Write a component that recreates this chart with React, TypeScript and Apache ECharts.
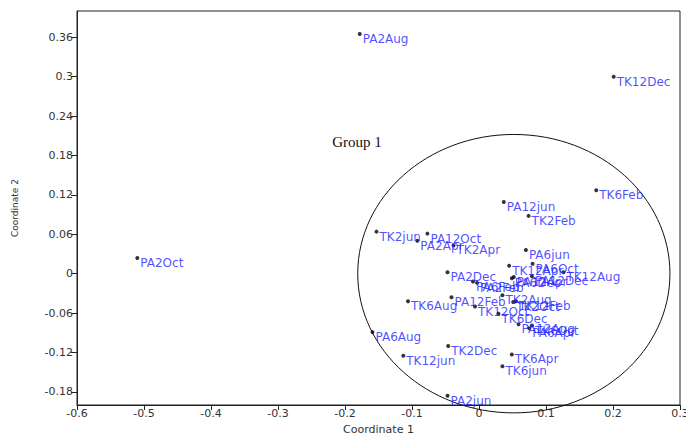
import React, { useEffect, useRef } from "react";
import * as echarts from "echarts";

const names = [
  "PA2Aug", "TK12Dec", "PA2Oct", "TK6Feb", "PA12jun", "TK2Feb", "TK2jun", "PA12Oct",
  "PA2Apr", "TK2Apr", "PA6jun", "PA6Oct", "TK12Apr", "TK12Aug", "PA2Dec", "PA6Feb",
  "PA2Feb", "PA6Dec", "PA12Apr", "PA12Dec", "PA12Feb", "TK2Aug", "TK6Aug", "TK12Oct",
  "TK12Feb", "TK6Dec", "PA12Aug", "PA6Apr", "TK6Oct", "PA6Aug", "TK2Dec", "TK12jun",
  "TK6Apr", "TK6jun", "PA2jun", "TK2Oct",
];
const coord1 = [
  -0.178, 0.201, -0.510, 0.175, 0.037, 0.074, -0.153, -0.077,
  -0.092, -0.038, 0.070, 0.080, 0.045, 0.126, -0.047, -0.009,
  -0.003, 0.049, 0.052, 0.079, -0.041, 0.035, -0.106, -0.006,
  0.055, 0.029, 0.059, 0.075, 0.079, -0.159, -0.046, -0.113,
  0.049, 0.035, -0.047, 0.051,
];
const coord2 = [
  0.365, 0.300, 0.024, 0.127, 0.109, 0.088, 0.064, 0.061,
  0.050, 0.043, 0.036, 0.015, 0.012, 0.002, 0.002, -0.012,
  -0.014, -0.007, -0.005, -0.004, -0.036, -0.033, -0.042, -0.050,
  -0.042, -0.061, -0.077, -0.083, -0.079, -0.089, -0.110, -0.125,
  -0.123, -0.141, -0.186, -0.043,
];
const yTicks = [-0.18, -0.12, -0.06, 0, 0.06, 0.12, 0.18, 0.24, 0.3, 0.36];
const group = { label: "Group 1", cx: 0.052, cy: 0.0, rx: 0.233, ry: 0.212, labelX: -0.182, labelY: 0.2 };

const fmt = (v: number) => String(Number(v.toFixed(2)));

export default function App() {
  const ref = useRef<HTMLDivElement>(null);
  useEffect(() => {
    if (!ref.current) return;
    const chart = echarts.init(ref.current, null, { renderer: "svg" });
    const data = names.map((n, i) => [coord1[i], coord2[i], n]);
    const axisFont = { color: "#333", fontSize: 11, fontFamily: "DejaVu Sans" };
    chart.setOption({
      animation: false,
      backgroundColor: "#fff",
      grid: {
        left: 77, right: 6, top: 11, bottom: 32,
        show: true, borderColor: "#222", borderWidth: 1,
        outerBoundsMode: "none",
      },
      xAxis: {
        type: "value", min: -0.6, max: 0.3, interval: 0.1,
        name: "Coordinate 1", nameLocation: "middle", nameGap: 17,
        nameTextStyle: { ...axisFont, fontSize: 11 },
        axisLine: { show: true, onZero: false, lineStyle: { color: "#222" } },
        axisTick: { show: true, length: 5, lineStyle: { color: "#222" } },
        axisLabel: { ...axisFont, margin: 3, formatter: fmt },
        splitLine: { show: false },
      },
      yAxis: {
        type: "value", min: -0.2, max: 0.4,
        name: "Coordinate 2", nameLocation: "middle", nameGap: 58, nameRotate: 90,
        nameTextStyle: { ...axisFont, fontSize: 9 },
        axisLine: { show: true, onZero: false, lineStyle: { color: "#222" } },
        axisTick: { show: true, length: 6, customValues: yTicks, lineStyle: { color: "#222" } },
        axisLabel: { ...axisFont, margin: 4, customValues: yTicks, formatter: fmt },
        splitLine: { show: false },
      },
      series: [
        {
          type: "scatter",
          data,
          symbol: "circle",
          symbolSize: 4,
          itemStyle: { color: "#000" },
          label: {
            show: true,
            position: "right",
            distance: 1,
            offset: [0, 5],
            formatter: (p: any) => p.data[2],
            color: "#1f1fff",
            fontSize: 12,
            fontFamily: "DejaVu Sans",
          },
          z: 3,
        },
      ],
    });
    const [cxp, cyp] = chart.convertToPixel({ gridIndex: 0 }, [group.cx, group.cy]) as number[];
    const [exp, eyp] = chart.convertToPixel({ gridIndex: 0 }, [group.cx + group.rx, group.cy + group.ry]) as number[];
    const [lx, ly] = chart.convertToPixel({ gridIndex: 0 }, [group.labelX, group.labelY]) as number[];
    chart.setOption({
      graphic: [
        {
          type: "ellipse",
          shape: { cx: cxp, cy: cyp, rx: Math.abs(exp - cxp), ry: Math.abs(cyp - eyp) },
          style: { fill: "none", stroke: "#111", lineWidth: 1 },
          z: 1,
        },
        {
          type: "text",
          x: lx, y: ly,
          style: {
            text: group.label, fill: "#111", fontSize: 15,
            fontFamily: "Liberation Serif", align: "center", verticalAlign: "middle",
          },
          z: 2,
        },
      ],
    });
    return () => chart.dispose();
  }, []);
  return <div ref={ref} style={{ position: "fixed", left: 0, top: 0, width: 686, height: 437 }} />;
}
